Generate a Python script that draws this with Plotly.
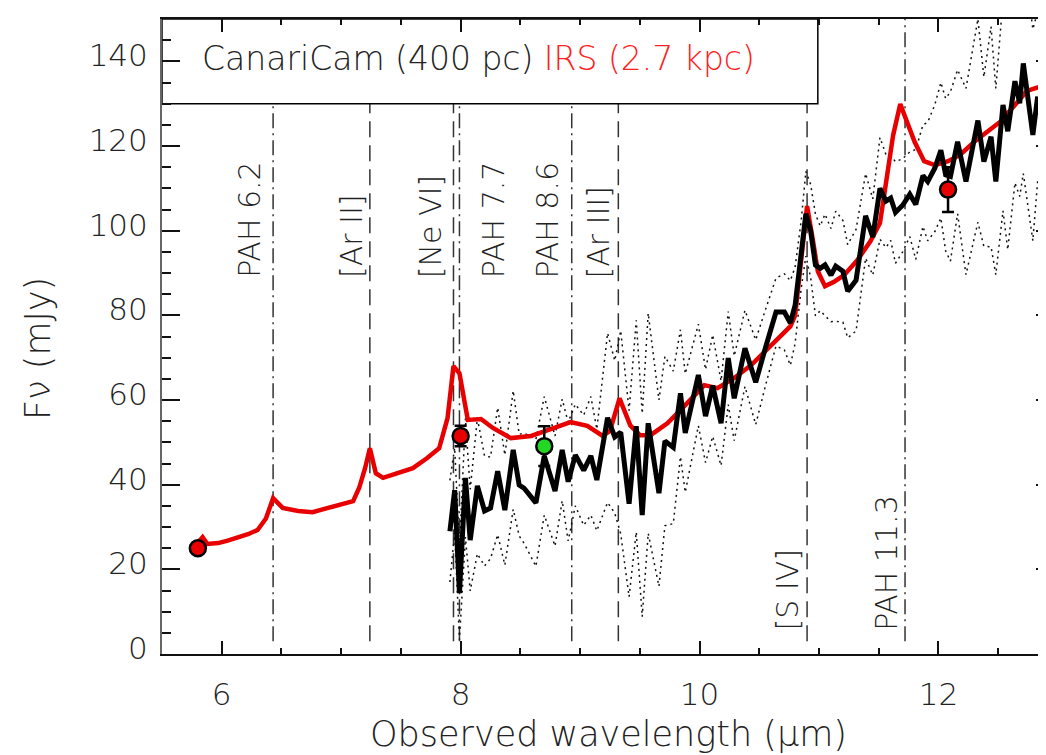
import plotly.graph_objects as go

# ---------------- data ----------------
irs_wl = [5.76, 5.80, 5.84, 5.88, 5.97, 6.05, 6.13, 6.22, 6.30, 6.37, 6.43, 6.51, 6.64, 6.76,
          6.89, 7.01, 7.10, 7.15, 7.20, 7.24, 7.29, 7.35, 7.47, 7.60, 7.72, 7.82, 7.89, 7.94,
          7.99, 8.06, 8.17, 8.27, 8.42, 8.59, 8.73, 8.92, 9.06, 9.19, 9.25, 9.33, 9.42, 9.50,
          9.59, 9.73, 9.84, 9.96, 10.04, 10.15, 10.29, 10.43, 10.57, 10.68, 10.76, 10.80, 10.85,
          10.90, 10.95, 10.99, 11.05, 11.13, 11.21, 11.32, 11.43, 11.51, 11.55, 11.62, 11.68,
          11.72, 11.80, 11.88, 11.97, 12.08, 12.18, 12.30, 12.41, 12.52, 12.64, 12.74, 12.85,
          12.95, 13.00]
irs_flux = [25.0, 26.3, 27.6, 26.0, 26.2, 26.8, 27.4, 28.3, 29.3, 32.0, 36.8, 34.5, 33.8, 33.5,
            34.5, 35.4, 36.1, 39.2, 43.9, 48.6, 42.7, 41.6, 42.7, 43.9, 46.3, 48.6, 55.7, 68.0,
            66.3, 55.3, 55.5, 53.4, 51.0, 51.5, 52.9, 54.8, 53.9, 51.5, 52.7, 60.4, 54.0, 51.7,
            51.7, 54.5, 57.6, 61.2, 63.5, 62.8, 65.2, 68.2, 72.2, 75.3, 77.4, 80.0, 91.9,
            105.8, 97.5, 90.4, 86.9, 88.0, 89.5, 93.0, 97.5, 101.8, 109.3, 122.5, 129.9,
            127.0, 121.0, 116.4, 115.5, 116.4, 117.9, 121.0, 123.5, 125.8, 129.7, 133.0, 134.0,
            136.0, 137.0]

cc_wl = [7.91, 7.95, 7.99, 8.04, 8.08, 8.14, 8.20, 8.25, 8.31, 8.37, 8.44, 8.49, 8.53, 8.63,
         8.70, 8.79, 8.85, 8.90, 8.96, 9.03, 9.09, 9.14, 9.23, 9.29, 9.34, 9.41, 9.47, 9.52,
         9.57, 9.66, 9.71, 9.78, 9.84, 9.88, 9.99, 10.05, 10.11, 10.18, 10.24, 10.29, 10.38,
         10.47, 10.55, 10.64, 10.71, 10.76, 10.80, 10.85, 10.89, 10.93, 10.97, 11.01, 11.05,
         11.10, 11.14, 11.20, 11.24, 11.31, 11.39, 11.45, 11.51, 11.56, 11.60, 11.64, 11.70,
         11.76, 11.81, 11.87, 11.91, 11.97, 12.02, 12.06, 12.10, 12.16, 12.23, 12.33, 12.38,
         12.44, 12.48, 12.54, 12.58, 12.64, 12.68, 12.71, 12.79, 12.83]
cc_flux = [29.0, 38.7, 14.4, 41.6, 26.9, 39.7, 33.8, 34.5, 43.2, 34.0, 48.2, 39.9, 39.2, 35.7,
           46.8, 38.5, 48.2, 40.7, 47.0, 43.4, 46.8, 41.1, 55.8, 51.3, 52.4, 35.5, 53.8, 32.8,
           54.5, 38.0, 50.3, 48.8, 61.6, 52.2, 65.9, 56.2, 63.4, 54.5, 69.9, 60.4, 72.2,
           64.2, 72.2, 80.8, 80.8, 78.2, 82.4, 94.2, 104.0, 99.9, 91.9, 91.1, 91.9,
           89.5, 91.6, 90.4, 85.7, 88.3, 103.5, 98.5, 110.0, 107.0, 107.7, 104.3, 106.0,
           108.6, 106.2, 113.0, 111.6, 114.8, 119.0, 113.2, 112.8, 121.0, 111.6, 126.0, 116.3,
           122.2, 111.6, 129.7, 123.5, 135.3, 130.1, 139.5, 122.6, 131.7]
cc_err = [12, 10, 11, 14, 12, 16, 13, 12, 15, 13,
          14, 12, 13, 15, 14, 13, 12, 14, 12, 13,
          14, 12, 20, 18, 24, 22, 25, 24, 26, 22,
          20, 18, 15, 14, 12, 11, 12, 10, 11, 10,
          9, 10, 9, 8, 9, 10, 9, 8, 10, 11,
          12, 10, 12, 11, 13, 12, 11, 12, 10, 9,
          12, 11, 10, 12, 11, 10, 13, 12, 14, 15,
          16, 18, 20, 17, 22, 24, 20, 26, 22, 25,
          28, 24, 22, 26, 25, 20]

phot_wl = [5.80, 8.00, 12.08]
phot_flux = [25.0, 51.5, 109.7]
phot_err = [1.0, 2.4, 5.3]
green_wl = [8.70]
green_flux = [49.1]
green_err = [4.7]

line_wl = [6.43, 7.24, 7.94, 7.99, 8.93, 9.32, 10.90, 11.72]
line_labels = ["PAH 6.2", "[Ar II]", "[Ne VI]", "PAH 7.7", "PAH 8.6", "[Ar III]", "[S IV]", "PAH 11.3"]
line_kind = ["pah", "ion", "ion", "pah", "pah", "ion", "ion", "pah"]

x_ticks = [6, 8, 10, 12]
y_ticks = [0, 20, 40, 60, 80, 100, 120, 140]

# ---------------- styling / layout helpers ----------------
FONT = "DejaVu Sans"
W8 = 200
label_dx = [-23, -19, -23, 34, -24, -20, -20, -18]
label_y = [88.3, 88.3, 88.3, 88.3, 88.3, 88.3, 5.0, 5.0]

fig = go.Figure()

cc_up = [f + e for f, e in zip(cc_flux, cc_err)]
cc_lo = [f - e for f, e in zip(cc_flux, cc_err)]

for env in (cc_up, cc_lo):
    fig.add_trace(go.Scatter(x=cc_wl, y=env, mode="lines",
                             line=dict(color="#111", width=1.5, dash="2px,4px"),
                             hoverinfo="skip", showlegend=False))

fig.add_trace(go.Scatter(x=irs_wl, y=irs_flux, mode="lines",
                         line=dict(color="#e80000", width=4.5), showlegend=False))
fig.add_trace(go.Scatter(x=cc_wl, y=cc_flux, mode="lines",
                         line=dict(color="black", width=5, shape="linear"), showlegend=False))

fig.add_trace(go.Scatter(x=phot_wl, y=phot_flux, mode="markers",
                         marker=dict(color="#e80000", size=16, line=dict(color="black", width=2.5)),
                         error_y=dict(type="data", array=phot_err, color="black", thickness=2.5, width=6),
                         showlegend=False))
fig.add_trace(go.Scatter(x=green_wl, y=green_flux, mode="markers",
                         marker=dict(color="#22d822", size=16, line=dict(color="black", width=2.5)),
                         error_y=dict(type="data", array=green_err, color="black", thickness=2.5, width=6),
                         showlegend=False))

# vertical line markers
for wl, kind in zip(line_wl, line_kind):
    fig.add_shape(type="line", xref="x", yref="y", x0=wl, x1=wl, y0=3, y1=150,
                  layer="below",
                  line=dict(color="#333", width=1.5,
                            dash="15px,5px,2px,5px" if kind == "pah" else "16px,8px"))

# legend box (white, covers lines)
fig.add_shape(type="rect", xref="x", yref="y", x0=5.5, x1=10.99, y0=130, y1=150,
              layer="below", fillcolor="white", line=dict(color="black", width=1.5))

annotations = []
for wl, lab, dx, yy in zip(line_wl, line_labels, label_dx, label_y):
    annotations.append(dict(x=wl, y=yy, xref="x", yref="y", text=lab, showarrow=False,
                            textangle=-90, xanchor="center", yanchor="bottom", xshift=dx,
                            font=dict(family=FONT, size=30, color="#222", weight=W8)))

annotations.append(dict(x=5.82, y=140.6, xref="x", yref="y", xanchor="left", yanchor="middle",
                        showarrow=False,
                        text="CanariCam (400 pc) <span style='color:#ff2020'>IRS (2.7 kpc)</span>",
                        font=dict(family=FONT, size=33, color="#222", weight=W8)))

annotations.append(dict(x=(600 - 154) / 892, y=-(726 - 646) / 635, xref="paper", yref="paper",
                        xanchor="center", yanchor="middle", showarrow=False,
                        text="Observed wavelength (μm)",
                        font=dict(family=FONT, size=35, color="#222", weight=W8)))
annotations.append(dict(x=(30 - 154) / 892, y=(646 - 340) / 635, xref="paper", yref="paper",
                        xanchor="center", yanchor="middle", showarrow=False, textangle=-90,
                        text="Fν (mJy)",
                        font=dict(family=FONT, size=35, color="#222", weight=W8)))

fig.update_layout(
    width=1046, height=755,
    margin=dict(l=154, r=0, t=11, b=109, autoexpand=False),
    paper_bgcolor="white", plot_bgcolor="white",
    showlegend=False,
    annotations=annotations,
    xaxis=dict(range=[5.5, 12.967], tickvals=x_ticks, ticks="inside", ticklen=13, tickwidth=1.5,
               tickcolor="#111", showline=True, linecolor="#111", linewidth=2, mirror="allticks",
               showgrid=False, zeroline=False, ticklabelstandoff=12, automargin=False,
               tickfont=dict(family=FONT, size=31, color="#222", weight=W8),
               minor=dict(dtick=0.5, tick0=5.5, ticks="inside", ticklen=6, tickwidth=1.5,
                          tickcolor="#111", showgrid=False)),
    yaxis=dict(range=[0, 150], tickvals=y_ticks, ticks="inside", ticklen=18, tickwidth=1.5,
               tickcolor="#111", showline=True, linecolor="#666", linewidth=2, mirror="allticks",
               showgrid=False, zeroline=False, ticklabelstandoff=6, ticklabelshift=-6,
               automargin=False,
               tickfont=dict(family=FONT, size=31, color="#222", weight=W8),
               minor=dict(dtick=5, tick0=0, ticks="inside", ticklen=9, tickwidth=1.5,
                          tickcolor="#111", showgrid=False)),
)

fig.write_html("out.html")
